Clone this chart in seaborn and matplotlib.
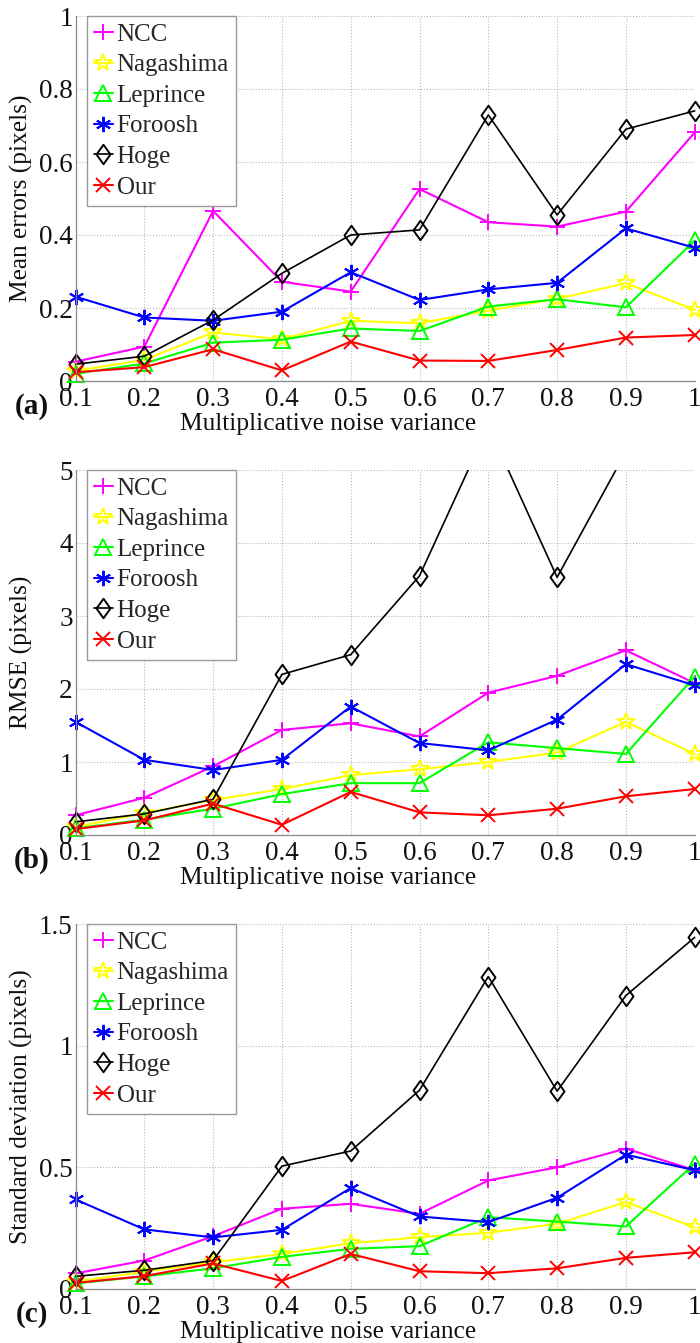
import numpy as np
import pandas as pd
import matplotlib
matplotlib.use("Agg")
import matplotlib.pyplot as plt
from matplotlib.path import Path
from matplotlib.patches import Rectangle
import seaborn as sns

# ---------------- data ----------------
noise = [0.1, 0.2, 0.3, 0.4, 0.5, 0.6, 0.7, 0.8, 0.9, 1.0]
methods = ["NCC", "Nagashima", "Leprince", "Foroosh", "Hoge", "Our"]
xtick_labels = ["0.1", "0.2", "0.3", "0.4", "0.5", "0.6", "0.7", "0.8", "0.9", "1"]

ncc_mean = [0.053, 0.094, 0.466, 0.272, 0.245, 0.526, 0.435, 0.423, 0.464, 0.681]
nag_mean = [0.028, 0.058, 0.133, 0.114, 0.165, 0.158, 0.193, 0.225, 0.268, 0.195]
lep_mean = [0.020, 0.048, 0.105, 0.113, 0.144, 0.137, 0.204, 0.224, 0.202, 0.385]
for_mean = [0.231, 0.174, 0.165, 0.190, 0.298, 0.222, 0.251, 0.269, 0.418, 0.365]
hoge_mean = [0.046, 0.068, 0.167, 0.295, 0.400, 0.414, 0.729, 0.455, 0.690, 0.740]
our_mean = [0.024, 0.038, 0.087, 0.029, 0.108, 0.056, 0.055, 0.085, 0.119, 0.126]

ncc_rmse = [0.27, 0.51, 0.94, 1.44, 1.53, 1.35, 1.95, 2.18, 2.53, 2.08]
nag_rmse = [0.11, 0.30, 0.48, 0.63, 0.82, 0.90, 1.00, 1.13, 1.55, 1.11]
lep_rmse = [0.09, 0.21, 0.36, 0.56, 0.71, 0.71, 1.27, 1.19, 1.11, 2.17]
for_rmse = [1.55, 1.03, 0.89, 1.03, 1.76, 1.26, 1.16, 1.58, 2.34, 2.05]
hoge_rmse = [0.18, 0.29, 0.49, 2.20, 2.47, 3.55, 5.60, 3.53, 5.25, 5.90]
our_rmse = [0.08, 0.20, 0.43, 0.14, 0.59, 0.31, 0.27, 0.36, 0.53, 0.63]

ncc_std = [0.064, 0.117, 0.217, 0.330, 0.350, 0.309, 0.446, 0.500, 0.577, 0.488]
nag_std = [0.030, 0.071, 0.110, 0.144, 0.188, 0.213, 0.231, 0.268, 0.357, 0.254]
lep_std = [0.023, 0.052, 0.085, 0.132, 0.165, 0.176, 0.295, 0.277, 0.257, 0.515]
for_std = [0.368, 0.245, 0.212, 0.243, 0.415, 0.298, 0.275, 0.375, 0.552, 0.488]
hoge_std = [0.052, 0.077, 0.117, 0.505, 0.567, 0.817, 1.284, 0.813, 1.206, 1.445]
our_std = [0.025, 0.053, 0.105, 0.033, 0.144, 0.073, 0.065, 0.085, 0.128, 0.151]

panels = [
    ("Mean errors (pixels)", [ncc_mean, nag_mean, lep_mean, for_mean, hoge_mean, our_mean],
     [0, 0.2, 0.4, 0.6, 0.8, 1], ["0", "0.2", "0.4", "0.6", "0.8", "1"], (0, 1), "(a)"),
    ("RMSE (pixels)", [ncc_rmse, nag_rmse, lep_rmse, for_rmse, hoge_rmse, our_rmse],
     [0, 1, 2, 3, 4, 5], ["0", "1", "2", "3", "4", "5"], (0, 5), "(b)"),
    ("Standard deviation (pixels)", [ncc_std, nag_std, lep_std, for_std, hoge_std, our_std],
     [0, 0.5, 1, 1.5], ["0", "0.5", "1", "1.5"], (0, 1.5), "(c)"),
]

# ---------------- style ----------------
sns.set_theme(style="white")
plt.rcParams["font.family"] = ["Liberation Serif", "DejaVu Serif"]

colors = ["#ff00ff", "#ffff00", "#00ff00", "#0000ff", "#000000", "#ff0000"]
diamond = Path([(0, 1), (0.72, 0), (0, -1), (-0.72, 0), (0, 1)],
               [Path.MOVETO, Path.LINETO, Path.LINETO, Path.LINETO, Path.CLOSEPOLY])
markers = ["+", "*", "^", (6, 2, 0), diamond, "x"]
msizes = [12, 13, 12, 11, 14, 10]
lwidths = [1.5, 1.5, 1.5, 1.5, 1.2, 1.5]

W, H = 700, 1343
fig = plt.figure(figsize=(W / 100, H / 100), dpi=100)
ax_left, ax_right = 75.5, 694.7
tops = [16, 470, 924]
ax_h = 365

for (ylabel, series, yt, ytl, ylim, tag), top in zip(panels, tops):
    ax = fig.add_axes([ax_left / W, 1 - (top + ax_h) / H, (ax_right - ax_left) / W, ax_h / H])
    df = pd.DataFrame({"noise": noise * len(methods),
                       "value": np.concatenate(series),
                       "method": np.repeat(methods, len(noise))})
    for i, m in enumerate(methods):
        sub = df[df["method"] == m]
        sns.lineplot(data=sub, x="noise", y="value", ax=ax, color=colors[i],
                     marker=markers[i], markersize=msizes[i], markeredgecolor=colors[i],
                     markerfacecolor="none", markeredgewidth=1.4, linewidth=lwidths[i],
                     errorbar=None, legend=False)
    clip = Rectangle((-0.05, -0.1), 1.1, 1.1, transform=ax.transAxes)
    for ln in ax.lines:
        ln.set_clip_path(clip)

    ax.set_xlim(0.1, 1.0)
    ax.set_ylim(*ylim)
    ax.set_xticks(noise)
    ax.set_xticklabels(xtick_labels)
    ax.set_yticks(yt)
    ax.set_yticklabels(ytl)
    ax.grid(True, linestyle=":", color="#b8b8b8", linewidth=0.8)
    ax.set_axisbelow(True)
    for s in ["top", "right"]:
        ax.spines[s].set_visible(False)
    for s in ["left", "bottom"]:
        ax.spines[s].set_color("#8a8a8a")
        ax.spines[s].set_linewidth(0.9)
    ax.tick_params(direction="in", length=4, width=0.8, color="#8a8a8a",
                   labelsize=19.5, pad=2, labelcolor="#111111")
    ax.tick_params(axis="x", pad=4)
    ax.set_xlabel("Multiplicative noise variance", fontsize=18.3, color="#111111")
    ax.set_ylabel(ylabel, fontsize=18.3, color="#111111")
    ax.xaxis.set_label_coords(0.408, -0.088)
    ax.yaxis.set_label_coords(-0.069, 0.5)

    leg = ax.legend(handles=ax.lines[:6], labels=methods, loc="upper left",
                    bbox_to_anchor=(11 / (ax_right - ax_left), 1.0), borderaxespad=0,
                    fontsize=18, handlelength=0.75, handletextpad=0.15, borderpad=0.3,
                    labelspacing=0.32, fancybox=False, framealpha=1, numpoints=1)
    leg.get_frame().set_edgecolor("#999999")
    leg.get_frame().set_linewidth(1.0)
    leg.set_zorder(10)

    fig.text(32 / W, 1 - (top + ax_h + 25) / H, tag, ha="center", va="center",
             fontsize=21, fontweight="bold", color="#111111")

fig.savefig("out.png", dpi=100)
